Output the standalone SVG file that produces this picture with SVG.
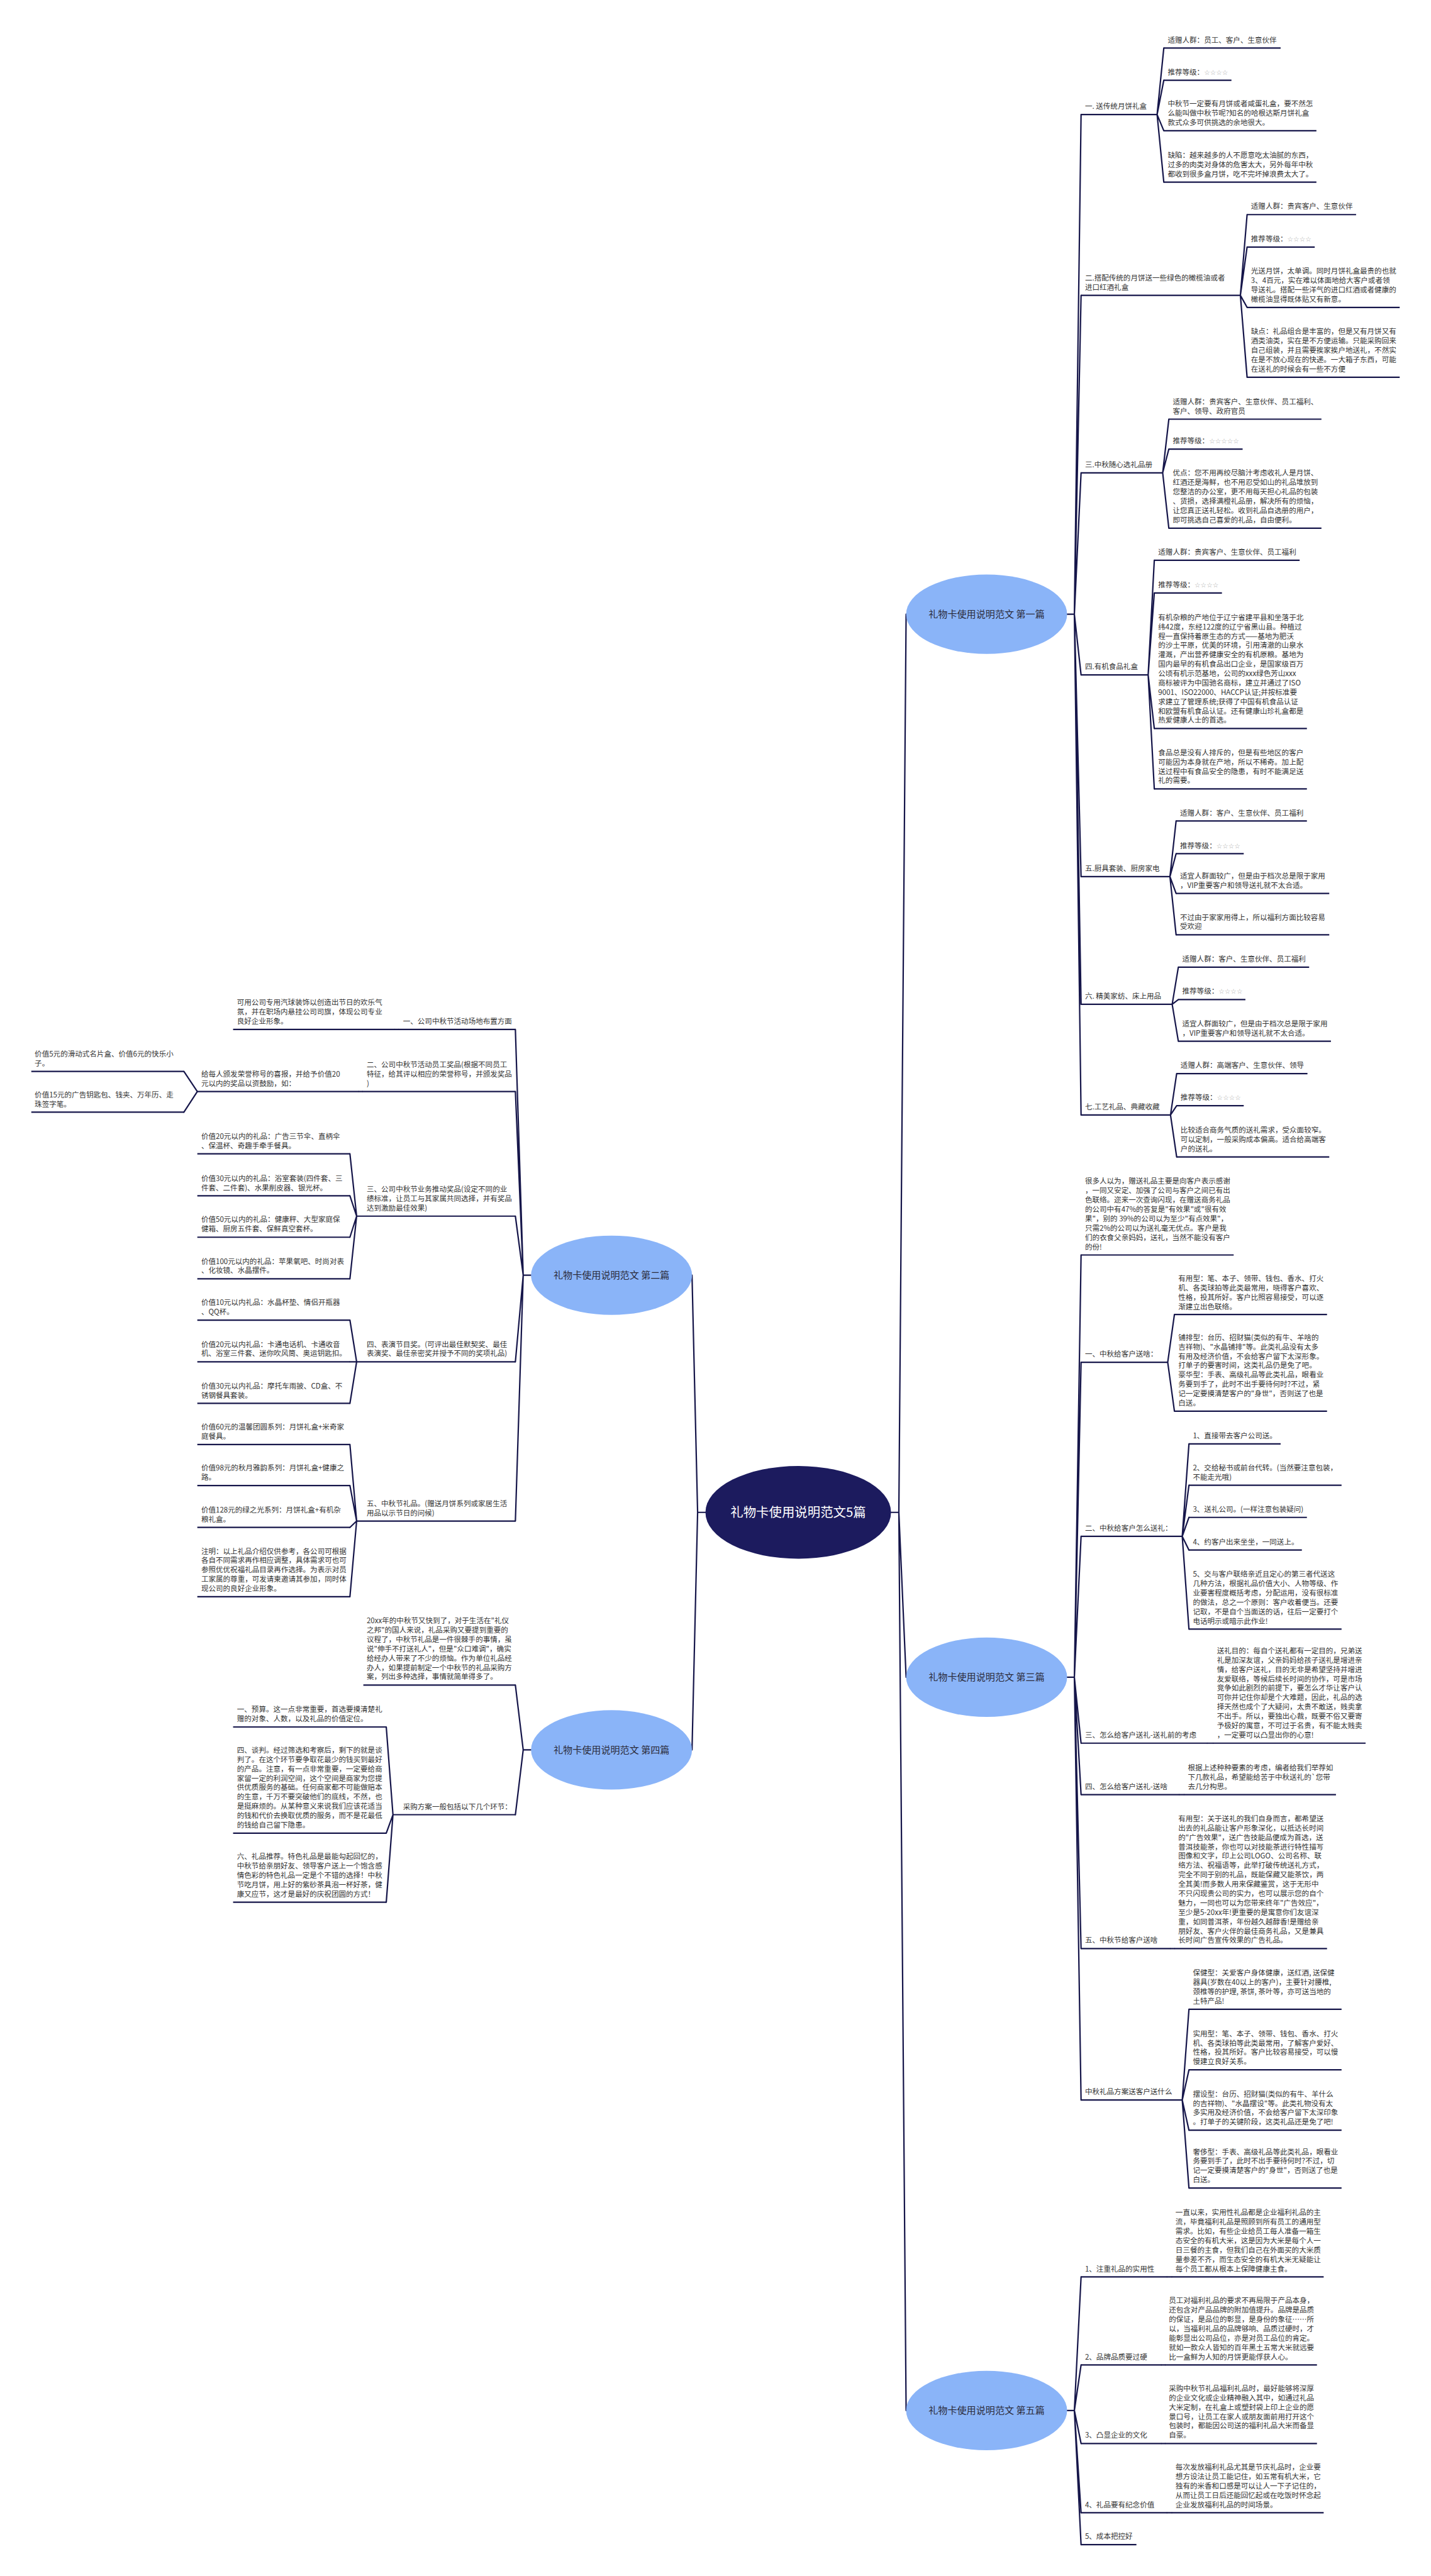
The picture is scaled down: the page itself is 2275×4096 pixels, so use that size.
<svg xmlns="http://www.w3.org/2000/svg" width="2275" height="4096" viewBox="0 0 2275 4096">
<style>
.t{font-family:"Noto Sans CJK SC","Noto Sans",sans-serif;font-size:13px;fill:#333}
.st{fill:#aaa;font-family:"DejaVu Sans",sans-serif;font-size:12px}
.u{stroke:#16164a;stroke-width:2.5;fill:none}
.c{stroke:#16164a;stroke-width:2.5;fill:none;stroke-linejoin:round;stroke-linecap:round}
.b{fill:#8ab4f8}
.bt{font-family:"Noto Sans CJK SC",sans-serif;font-size:17px;fill:#2b2b3a;text-anchor:middle}
.ct{font-family:"Noto Sans CJK SC",sans-serif;font-size:23px;fill:#fff;text-anchor:middle}
</style>
<rect width="2275" height="4096" fill="#fff"/>
<g transform="scale(0.88867)">
<g id="connectors" class="c">
<path d="M1594 2706H1608L1621 1099M1608 2706L1621 3001M1608 2706L1621 4313M1262 2706H1248L1238 2281.75M1248 2706L1238 3131"/>
<path d="M1909 1099H1922L1934 205M1922 1099L1934 528.5M1922 1099L1934 846M1922 1099L1934 1207.5M1922 1099L1934 1568.5M1922 1099L1934 1797M1922 1099L1934 1995"/>
<path d="M2070 205L2082 86M2070 205L2082 143.5M2070 205L2082 234M2070 205L2082 326"/>
<path d="M2219 528.5L2231 384M2219 528.5L2231 442M2219 528.5L2231 550M2219 528.5L2231 675"/>
<path d="M2080 846L2091 750M2080 846L2091 803.5M2080 846L2091 945"/>
<path d="M2054 1207.5L2065 1002.5M2054 1207.5L2065 1061M2054 1207.5L2065 1303.5M2054 1207.5L2065 1411.5"/>
<path d="M2093 1568.5L2104 1469M2093 1568.5L2104 1527.5M2093 1568.5L2104 1598.5M2093 1568.5L2104 1672.5"/>
<path d="M2097 1797L2108 1730.5M2097 1797L2108 1788.5M2097 1797L2108 1863"/>
<path d="M2094 1995L2105 1921M2094 1995L2105 1978.5M2094 1995L2105 2070"/>
<path d="M1909 3001H1922L1934 2245.5M1922 3001L1934 2437.5M1922 3001L1934 2749M1922 3001L1934 3119M1922 3001L1934 3211M1922 3001L1934 3486.5M1922 3001L1934 3757.5"/>
<path d="M2089 2437.5L2101 2352M2089 2437.5L2101 2525"/>
<path d="M2115 2749L2127 2583.5M2115 2749L2127 2657.5M2115 2749L2127 2715M2115 2749L2127 2773.5M2115 2749L2127 2915"/>
<path d="M2160 3119H2170M2110 3211H2118M2094 3486.5H2101"/>
<path d="M2115 3757.5L2127 3595M2115 3757.5L2127 3703.5M2115 3757.5L2127 3811.5M2115 3757.5L2127 3915"/>
<path d="M1909 4313H1922L1934 4074M1922 4313L1934 4231.5M1922 4313L1934 4372M1922 4313L1934 4496M1922 4313L1934 4553"/>
<path d="M2088 4074H2096M2078 4231.5H2084M2078 4372H2084M2088 4496H2096"/>
<path d="M950 2281.75H936L922 1842M936 2281.75L922 1953M936 2281.75L922 2176M936 2281.75L922 2436.6M936 2281.75L922 2721.5"/>
<path d="M713 1842H706M648 1953H642M353 1953L329 1917M353 1953L329 1990"/>
<path d="M638 2176L626 2064.4M638 2176L626 2139.6M638 2176L626 2213.7M638 2176L626 2288"/>
<path d="M638 2436.6L626 2362M638 2436.6L626 2436.6M638 2436.6L626 2511"/>
<path d="M638 2721.5L626 2584.7M638 2721.5L626 2658M638 2721.5L626 2733M638 2721.5L626 2857"/>
<path d="M950 3131H936L922 3015M936 3131L922 3247"/>
<path d="M703 3247L691 3090M703 3247L691 3280M703 3247L691 3403.5"/>
</g>

<g id="center"><ellipse cx="1428" cy="2706" rx="166" ry="83" fill="#1c1b5e"/><text class="ct" x="1428" y="2714">礼物卡使用说明范文5篇</text></g>
<g id="p1"><ellipse class="b" cx="1765" cy="1099" rx="144" ry="71"/><text class="bt" x="1765" y="1105">礼物卡使用说明范文 第一篇</text></g>
<g id="p3"><ellipse class="b" cx="1765" cy="3001" rx="144" ry="71"/><text class="bt" x="1765" y="3007">礼物卡使用说明范文 第三篇</text></g>
<g id="p5"><ellipse class="b" cx="1765" cy="4313" rx="144" ry="71"/><text class="bt" x="1765" y="4319">礼物卡使用说明范文 第五篇</text></g>
<g id="p2"><ellipse class="b" cx="1094" cy="2281.75" rx="144" ry="71"/><text class="bt" x="1094" y="2288">礼物卡使用说明范文 第二篇</text></g>
<g id="p4"><ellipse class="b" cx="1094" cy="3131" rx="144" ry="71"/><text class="bt" x="1094" y="3137">礼物卡使用说明范文 第四篇</text></g>

<!-- 第一篇 -->
<g id="r1"><line class="u" x1="1934" y1="205" x2="2070" y2="205"/><text class="t" x="1941" y="195">一. 送传统月饼礼盒</text></g>
<g id="r1a"><line class="u" x1="2082" y1="86" x2="2291" y2="86"/><text class="t" x="2089" y="76">适赠人群：员工、客户、生意伙伴</text></g>
<g id="r1b"><line class="u" x1="2082" y1="143.5" x2="2203" y2="143.5"/><text class="t" x="2089" y="133.5">推荐等级：<tspan class="st">☆☆☆☆</tspan></text></g>
<g id="r1c"><line class="u" x1="2082" y1="234" x2="2355" y2="234"/><text class="t" x="2089" y="190.5"><tspan x="2089">中秋节一定要有月饼或者咸蛋礼盒，要不然怎</tspan><tspan x="2089" dy="16.75">么能叫做中秋节呢?知名的哈根达斯月饼礼盒</tspan><tspan x="2089" dy="16.75">款式众多可供挑选的余地很大。</tspan></text></g>
<g id="r1d"><line class="u" x1="2082" y1="326" x2="2355" y2="326"/><text class="t" x="2089" y="282.5"><tspan x="2089">缺陷：越来越多的人不愿意吃太油腻的东西，</tspan><tspan x="2089" dy="16.75">过多的肉类对身体的危害太大，另外每年中秋</tspan><tspan x="2089" dy="16.75">都收到很多盒月饼，吃不完坏掉浪费太大了。</tspan></text></g>

<g id="r2"><line class="u" x1="1934" y1="528.5" x2="2219" y2="528.5"/><text class="t" x="1941" y="501.75"><tspan x="1941">二.搭配传统的月饼送一些绿色的橄榄油或者</tspan><tspan x="1941" dy="16.75">进口红酒礼盒</tspan></text></g>
<g id="r2a"><line class="u" x1="2231" y1="384" x2="2426" y2="384"/><text class="t" x="2238" y="374">适赠人群：贵宾客户、生意伙伴</text></g>
<g id="r2b"><line class="u" x1="2231" y1="442" x2="2352" y2="442"/><text class="t" x="2238" y="432">推荐等级：<tspan class="st">☆☆☆☆</tspan></text></g>
<g id="r2c"><line class="u" x1="2231" y1="550" x2="2504" y2="550"/><text class="t" x="2238" y="489.75"><tspan x="2238">光送月饼，太单调。同时月饼礼盒最贵的也就</tspan><tspan x="2238" dy="16.75">3、4百元，实在难以体面地给大客户或者领</tspan><tspan x="2238" dy="16.75">导送礼。搭配一些洋气的进口红酒或者健康的</tspan><tspan x="2238" dy="16.75">橄榄油显得既体贴又有新意。</tspan></text></g>
<g id="r2d"><line class="u" x1="2231" y1="675" x2="2504" y2="675"/><text class="t" x="2238" y="598"><tspan x="2238">缺点：礼品组合是丰富的，但是又有月饼又有</tspan><tspan x="2238" dy="16.75">酒类油类，实在是不方便运输。只能采购回来</tspan><tspan x="2238" dy="16.75">自己组装，并且需要挨家挨户地送礼，不然实</tspan><tspan x="2238" dy="16.75">在是不放心现在的快递。一大箱子东西，可能</tspan><tspan x="2238" dy="16.75">在送礼的时候会有一些不方便</tspan></text></g>

<g id="r3"><line class="u" x1="1934" y1="846" x2="2080" y2="846"/><text class="t" x="1941" y="836">三.中秋随心选礼品册</text></g>
<g id="r3a"><line class="u" x1="2091" y1="750" x2="2364" y2="750"/><text class="t" x="2098" y="723.25"><tspan x="2098">适赠人群：贵宾客户、生意伙伴、员工福利、</tspan><tspan x="2098" dy="16.75">客户、领导、政府官员</tspan></text></g>
<g id="r3b"><line class="u" x1="2091" y1="803.5" x2="2223" y2="803.5"/><text class="t" x="2098" y="793.5">推荐等级：<tspan class="st">☆☆☆☆☆</tspan></text></g>
<g id="r3c"><line class="u" x1="2091" y1="945" x2="2364" y2="945"/><text class="t" x="2098" y="851.25"><tspan x="2098">优点：您不用再绞尽脑汁考虑收礼人是月饼、</tspan><tspan x="2098" dy="16.75">红酒还是海鲜，也不用忍受如山的礼品堆放到</tspan><tspan x="2098" dy="16.75">您整洁的办公室，更不用每天担心礼品的包装</tspan><tspan x="2098" dy="16.75">、货损，选择满橙礼品册，解决所有的烦恼，</tspan><tspan x="2098" dy="16.75">让您真正送礼轻松。收到礼品自选册的用户，</tspan><tspan x="2098" dy="16.75">即可挑选自己喜爱的礼品，自由便利。</tspan></text></g>

<g id="r4"><line class="u" x1="1934" y1="1207.5" x2="2054" y2="1207.5"/><text class="t" x="1941" y="1197.5">四.有机食品礼盒</text></g>
<g id="r4a"><line class="u" x1="2065" y1="1002.5" x2="2325" y2="1002.5"/><text class="t" x="2072" y="992.5">适赠人群：贵宾客户、生意伙伴、员工福利</text></g>
<g id="r4b"><line class="u" x1="2065" y1="1061" x2="2186" y2="1061"/><text class="t" x="2072" y="1051">推荐等级：<tspan class="st">☆☆☆☆</tspan></text></g>
<g id="r4c"><line class="u" x1="2065" y1="1303.5" x2="2338" y2="1303.5"/><text class="t" x="2072" y="1109.25"><tspan x="2072">有机杂粮的产地位于辽宁省建平县和坐落于北</tspan><tspan x="2072" dy="16.75">纬42度，东经122度的辽宁省黑山县。种植过</tspan><tspan x="2072" dy="16.75">程一直保持着原生态的方式——基地为肥沃</tspan><tspan x="2072" dy="16.75">的沙土平原，优美的环境，引用清澈的山泉水</tspan><tspan x="2072" dy="16.75">灌溉，产出营养健康安全的有机原粮。基地为</tspan><tspan x="2072" dy="16.75">国内最早的有机食品出口企业，是国家级百万</tspan><tspan x="2072" dy="16.75">公顷有机示范基地，公司的xxx绿色芳山xxx</tspan><tspan x="2072" dy="16.75">商标被评为中国驰名商标，建立并通过了ISO</tspan><tspan x="2072" dy="16.75">9001、ISO22000、HACCP认证;并按标准要</tspan><tspan x="2072" dy="16.75">求建立了管理系统;获得了中国有机食品认证</tspan><tspan x="2072" dy="16.75">和欧盟有机食品认证。还有健康山珍礼盒都是</tspan><tspan x="2072" dy="16.75">热爱健康人士的首选。</tspan></text></g>
<g id="r4d"><line class="u" x1="2065" y1="1411.5" x2="2338" y2="1411.5"/><text class="t" x="2072" y="1351.25"><tspan x="2072">食品总是没有人排斥的，但是有些地区的客户</tspan><tspan x="2072" dy="16.75">可能因为本身就在产地，所以不稀奇。加上配</tspan><tspan x="2072" dy="16.75">送过程中有食品安全的隐患，有时不能满足送</tspan><tspan x="2072" dy="16.75">礼的需要。</tspan></text></g>

<g id="r5"><line class="u" x1="1934" y1="1568.5" x2="2093" y2="1568.5"/><text class="t" x="1941" y="1558.5">五.厨具套装、厨房家电</text></g>
<g id="r5a"><line class="u" x1="2104" y1="1469" x2="2338" y2="1469"/><text class="t" x="2111" y="1459">适赠人群：客户、生意伙伴、员工福利</text></g>
<g id="r5b"><line class="u" x1="2104" y1="1527.5" x2="2225" y2="1527.5"/><text class="t" x="2111" y="1517.5">推荐等级：<tspan class="st">☆☆☆☆</tspan></text></g>
<g id="r5c"><line class="u" x1="2104" y1="1598.5" x2="2378" y2="1598.5"/><text class="t" x="2111" y="1571.75"><tspan x="2111">适宜人群面较广，但是由于档次总是限于家用</tspan><tspan x="2111" dy="16.75">，VIP重要客户和领导送礼就不太合适。</tspan></text></g>
<g id="r5d"><line class="u" x1="2104" y1="1672.5" x2="2378" y2="1672.5"/><text class="t" x="2111" y="1645.75"><tspan x="2111">不过由于家家用得上，所以福利方面比较容易</tspan><tspan x="2111" dy="16.75">受欢迎</tspan></text></g>

<g id="r6"><line class="u" x1="1934" y1="1797" x2="2097" y2="1797"/><text class="t" x="1941" y="1787">六. 精美家纺、床上用品</text></g>
<g id="r6a"><line class="u" x1="2108" y1="1730.5" x2="2342" y2="1730.5"/><text class="t" x="2115" y="1720.5">适赠人群：客户、生意伙伴、员工福利</text></g>
<g id="r6b"><line class="u" x1="2108" y1="1788.5" x2="2228" y2="1788.5"/><text class="t" x="2115" y="1778.5">推荐等级：<tspan class="st">☆☆☆☆</tspan></text></g>
<g id="r6c"><line class="u" x1="2108" y1="1863" x2="2381" y2="1863"/><text class="t" x="2115" y="1836.25"><tspan x="2115">适宜人群面较广，但是由于档次总是限于家用</tspan><tspan x="2115" dy="16.75">，VIP重要客户和领导送礼就不太合适。</tspan></text></g>

<g id="r7"><line class="u" x1="1934" y1="1995" x2="2094" y2="1995"/><text class="t" x="1941" y="1985">七.工艺礼品、典藏收藏</text></g>
<g id="r7a"><line class="u" x1="2105" y1="1921" x2="2339" y2="1921"/><text class="t" x="2112" y="1911">适赠人群：高端客户、生意伙伴、领导</text></g>
<g id="r7b"><line class="u" x1="2105" y1="1978.5" x2="2225" y2="1978.5"/><text class="t" x="2112" y="1968.5">推荐等级：<tspan class="st">☆☆☆☆</tspan></text></g>
<g id="r7c"><line class="u" x1="2105" y1="2070" x2="2378" y2="2070"/><text class="t" x="2112" y="2026.5"><tspan x="2112">比较适合商务气质的送礼需求，受众面较窄。</tspan><tspan x="2112" dy="16.75">可以定制，一般采购成本偏高。适合给高端客</tspan><tspan x="2112" dy="16.75">户的送礼。</tspan></text></g>

<!-- 第三篇 -->
<g id="t1"><line class="u" x1="1934" y1="2245.5" x2="2207" y2="2245.5"/><text class="t" x="1941" y="2118.25"><tspan x="1941">很多人以为，赠送礼品主要是向客户表示感谢</tspan><tspan x="1941" dy="16.75">，一同又安定、加强了公司与客户之间已有出</tspan><tspan x="1941" dy="16.75">色联络。迩来一次查询闪现，在赠送商务礼品</tspan><tspan x="1941" dy="16.75">的公司中有47%的答复是"有效果"或"很有效</tspan><tspan x="1941" dy="16.75">果"，别的 39%的公司以为至少"有点效果"，</tspan><tspan x="1941" dy="16.75">只需2%的公司以为送礼毫无优点。客户是我</tspan><tspan x="1941" dy="16.75">们的衣食父亲妈妈，送礼，当然不能没有客户</tspan><tspan x="1941" dy="16.75">的份!</tspan></text></g>

<g id="t2"><line class="u" x1="1934" y1="2437.5" x2="2089" y2="2437.5"/><text class="t" x="1941" y="2427.5">一、中秋给客户送啥：</text></g>
<g id="t2a"><line class="u" x1="2101" y1="2352" x2="2374" y2="2352"/><text class="t" x="2108" y="2292.25"><tspan x="2108">有用型：笔、本子、领带、钱包、香水、打火</tspan><tspan x="2108" dy="16.75">机、各类球拍等此类最常用，晓得客户喜欢、</tspan><tspan x="2108" dy="16.75">性格，投其所好。客户比照容易接受，可以逐</tspan><tspan x="2108" dy="16.75">渐建立出色联络。</tspan></text></g>
<g id="t2b"><line class="u" x1="2101" y1="2525" x2="2374" y2="2525"/><text class="t" x="2108" y="2397.75"><tspan x="2108">铺排型：台历、招财猫(类似的有牛、羊啥的</tspan><tspan x="2108" dy="16.75">吉祥物)、"水晶铺排"等。此类礼品没有太多</tspan><tspan x="2108" dy="16.75">有用及经济价值，不会给客户留下太深形象。</tspan><tspan x="2108" dy="16.75">打单子的要害时间，这类礼品仍是免了吧。</tspan><tspan x="2108" dy="16.75">豪华型：手表、高级礼品等此类礼品，眼看业</tspan><tspan x="2108" dy="16.75">务要到手了，此时不出手要待何时?不过，紧</tspan><tspan x="2108" dy="16.75">记一定要摸清楚客户的"身世"，否则送了也是</tspan><tspan x="2108" dy="16.75">白送。</tspan></text></g>

<g id="t3"><line class="u" x1="1934" y1="2749" x2="2115" y2="2749"/><text class="t" x="1941" y="2739">二、中秋给客户怎么送礼：</text></g>
<g id="t3a"><line class="u" x1="2127" y1="2583.5" x2="2291" y2="2583.5"/><text class="t" x="2134" y="2573.5">1、直接带去客户公司送。</text></g>
<g id="t3b"><line class="u" x1="2127" y1="2657.5" x2="2400" y2="2657.5"/><text class="t" x="2134" y="2631"><tspan x="2134">2、交给秘书或前台代转。(当然要注意包装，</tspan><tspan x="2134" dy="16.75">不能走光哦)</tspan></text></g>
<g id="t3c"><line class="u" x1="2127" y1="2715" x2="2338" y2="2715"/><text class="t" x="2134" y="2705">3、送礼公司。(一样注意包装疑问)</text></g>
<g id="t3d"><line class="u" x1="2127" y1="2773.5" x2="2329" y2="2773.5"/><text class="t" x="2134" y="2763.5">4、约客户出来坐坐，一同送上。</text></g>
<g id="t3e"><line class="u" x1="2127" y1="2915" x2="2400" y2="2915"/><text class="t" x="2134" y="2821.25"><tspan x="2134">5、交与客户联络亲近且定心的第三者代送这</tspan><tspan x="2134" dy="16.75">几种方法，根据礼品价值大小、人物等级、作</tspan><tspan x="2134" dy="16.75">业要害程度概括考虑，分配运用，没有很标准</tspan><tspan x="2134" dy="16.75">的做法，总之一个原则：客户收着便当。还要</tspan><tspan x="2134" dy="16.75">记取，不是自个当面送的话，往后一定要打个</tspan><tspan x="2134" dy="16.75">电话明示或暗示此作业!</tspan></text></g>

<g id="t4"><line class="u" x1="1934" y1="3119" x2="2160" y2="3119"/><text class="t" x="1941" y="3109">三、怎么给客户送礼-送礼前的考虑</text></g>
<g id="t4a"><line class="u" x1="2170" y1="3119" x2="2443" y2="3119"/><text class="t" x="2177" y="2958.25"><tspan x="2177">送礼目的：每自个送礼都有一定目的，兄弟送</tspan><tspan x="2177" dy="16.75">礼是加深友谊，父亲妈妈给孩子送礼是增进亲</tspan><tspan x="2177" dy="16.75">情，给客户送礼，目的无非是希望坚持并增进</tspan><tspan x="2177" dy="16.75">友爱联络，等候后续长时间的协作，可是市场</tspan><tspan x="2177" dy="16.75">竞争如此剧烈的前提下，要怎么才华让客户认</tspan><tspan x="2177" dy="16.75">可你并记住你却是个大难题，因此，礼品的选</tspan><tspan x="2177" dy="16.75">择天然也成个了大疑问，太贵不敢送，贱卖拿</tspan><tspan x="2177" dy="16.75">不出手。所以，要独出心裁，既要不俗又要寄</tspan><tspan x="2177" dy="16.75">予极好的寓意，不可过于名贵，有不能太贱卖</tspan><tspan x="2177" dy="16.75">，一定要可以凸显出你的心意!</tspan></text></g>

<g id="t5"><line class="u" x1="1934" y1="3211" x2="2110" y2="3211"/><text class="t" x="1941" y="3201">四、怎么给客户送礼-送啥</text></g>
<g id="t5a"><line class="u" x1="2118" y1="3211" x2="2390" y2="3211"/><text class="t" x="2125" y="3167.5"><tspan x="2125">根据上述种种要素的考虑，编者给我们举荐如</tspan><tspan x="2125" dy="16.75">下几款礼品，希望能给苦于中秋送礼的`您带</tspan><tspan x="2125" dy="16.75">去几分构思。</tspan></text></g>

<g id="t6"><line class="u" x1="1934" y1="3486.5" x2="2094" y2="3486.5"/><text class="t" x="1941" y="3476.5">五、中秋节给客户送啥</text></g>
<g id="t6a"><line class="u" x1="2101" y1="3486.5" x2="2374" y2="3486.5"/><text class="t" x="2108" y="3258.75"><tspan x="2108">有用型：关于送礼的我们自身而言，都希望送</tspan><tspan x="2108" dy="16.75">出去的礼品能让客户形象深化，以抵达长时间</tspan><tspan x="2108" dy="16.75">的"广告效果"，送广告技能品便成为首选，送</tspan><tspan x="2108" dy="16.75">普洱技能茶，你也可以对技能茶进行特性描写</tspan><tspan x="2108" dy="16.75">图像和文字，印上公司LOGO、公司名称、联</tspan><tspan x="2108" dy="16.75">络方法、祝福语等，此举打破传统送礼方式，</tspan><tspan x="2108" dy="16.75">完全不同于别的礼品，既能保藏又能茶饮，两</tspan><tspan x="2108" dy="16.75">全其美!而多数人用来保藏鉴赏，这于无形中</tspan><tspan x="2108" dy="16.75">不只闪现贵公司的实力，也可以展示您的自个</tspan><tspan x="2108" dy="16.75">魅力，一同也可以为您带来终年"广告效应"，</tspan><tspan x="2108" dy="16.75">至少是5-20xx年!更重要的是寓意你们友谊深</tspan><tspan x="2108" dy="16.75">重，如同普洱茶，年份越久越醇香!是赠给亲</tspan><tspan x="2108" dy="16.75">朋好友、客户火伴的最佳商务礼品，又是兼具</tspan><tspan x="2108" dy="16.75">长时间广告宣传效果的广告礼品。</tspan></text></g>

<g id="t7"><line class="u" x1="1934" y1="3757.5" x2="2115" y2="3757.5"/><text class="t" x="1941" y="3747.5">中秋礼品方案送客户送什么</text></g>
<g id="t7a"><line class="u" x1="2127" y1="3595" x2="2400" y2="3595"/><text class="t" x="2134" y="3534.75"><tspan x="2134">保健型：关爱客户身体健康，送红酒, 送保健</tspan><tspan x="2134" dy="16.75">器具(岁数在40以上的客户)，主要针对腰椎,</tspan><tspan x="2134" dy="16.75">颈椎等的护理, 茶饼, 茶叶等，亦可送当地的</tspan><tspan x="2134" dy="16.75">土特产品!</tspan></text></g>
<g id="t7b"><line class="u" x1="2127" y1="3703.5" x2="2400" y2="3703.5"/><text class="t" x="2134" y="3643.25"><tspan x="2134">实用型：笔、本子、领带、钱包、香水、打火</tspan><tspan x="2134" dy="16.75">机、各类球拍等此类最常用，了解客户爱好、</tspan><tspan x="2134" dy="16.75">性格，投其所好。客户比较容易接受，可以慢</tspan><tspan x="2134" dy="16.75">慢建立良好关系。</tspan></text></g>
<g id="t7c"><line class="u" x1="2127" y1="3811.5" x2="2400" y2="3811.5"/><text class="t" x="2134" y="3751.25"><tspan x="2134">摆设型：台历、招财猫(类似的有牛、羊什么</tspan><tspan x="2134" dy="16.75">的吉祥物)、"水晶摆设"等。此类礼物没有太</tspan><tspan x="2134" dy="16.75">多实用及经济价值，不会给客户留下太深印象</tspan><tspan x="2134" dy="16.75">。打单子的关键阶段，这类礼品还是免了吧!</tspan></text></g>
<g id="t7d"><line class="u" x1="2127" y1="3915" x2="2400" y2="3915"/><text class="t" x="2134" y="3854.75"><tspan x="2134">奢侈型：手表、高级礼品等此类礼品，眼看业</tspan><tspan x="2134" dy="16.75">务要到手了，此时不出手要待何时?不过，切</tspan><tspan x="2134" dy="16.75">记一定要摸清楚客户的"身世"，否则送了也是</tspan><tspan x="2134" dy="16.75">白送。</tspan></text></g>

<!-- 第五篇 -->
<g id="f1"><line class="u" x1="1934" y1="4074" x2="2088" y2="4074"/><text class="t" x="1941" y="4064">1、注重礼品的实用性</text></g>
<g id="f1a"><line class="u" x1="2096" y1="4074" x2="2368" y2="4074"/><text class="t" x="2103" y="3963.5"><tspan x="2103">一直以来，实用性礼品都是企业福利礼品的主</tspan><tspan x="2103" dy="16.75">流，毕竟福利礼品是照顾到所有员工的通用型</tspan><tspan x="2103" dy="16.75">需求。比如，有些企业给员工每人准备一箱生</tspan><tspan x="2103" dy="16.75">态安全的有机大米，这是因为大米是每个人一</tspan><tspan x="2103" dy="16.75">日三餐的主食，但我们自己在外面买的大米质</tspan><tspan x="2103" dy="16.75">量参差不齐，而生态安全的有机大米无疑能让</tspan><tspan x="2103" dy="16.75">每个员工都从根本上保障健康主食。</tspan></text></g>
<g id="f2"><line class="u" x1="1934" y1="4231.5" x2="2078" y2="4231.5"/><text class="t" x="1941" y="4221.5">2、品牌品质要过硬</text></g>
<g id="f2a"><line class="u" x1="2084" y1="4231.5" x2="2356" y2="4231.5"/><text class="t" x="2091" y="4121"><tspan x="2091">员工对福利礼品的要求不再局限于产品本身，</tspan><tspan x="2091" dy="16.75">还包含对产品品牌的附加值提升。品牌是品质</tspan><tspan x="2091" dy="16.75">的保证，是品位的彰显，是身份的象征……所</tspan><tspan x="2091" dy="16.75">以，当福利礼品的品牌够响、品质过硬时，才</tspan><tspan x="2091" dy="16.75">能彰显出公司品位，亦是对员工品位的肯定。</tspan><tspan x="2091" dy="16.75">就如一款众人皆知的百年黑土五常大米就远要</tspan><tspan x="2091" dy="16.75">比一盒鲜为人知的月饼更能俘获人心。</tspan></text></g>
<g id="f3"><line class="u" x1="1934" y1="4372" x2="2078" y2="4372"/><text class="t" x="1941" y="4362">3、凸显企业的文化</text></g>
<g id="f3a"><line class="u" x1="2084" y1="4372" x2="2356" y2="4372"/><text class="t" x="2091" y="4278.25"><tspan x="2091">采购中秋节礼品福利礼品时，最好能够将深厚</tspan><tspan x="2091" dy="16.75">的企业文化或企业精神融入其中，如通过礼品</tspan><tspan x="2091" dy="16.75">大米定制，在礼盒上或塑封袋上印上企业的愿</tspan><tspan x="2091" dy="16.75">景口号，让员工在家人或朋友面前用打开这个</tspan><tspan x="2091" dy="16.75">包装时，都能因公司送的福利礼品大米而备显</tspan><tspan x="2091" dy="16.75">自豪。</tspan></text></g>
<g id="f4"><line class="u" x1="1934" y1="4496" x2="2088" y2="4496"/><text class="t" x="1941" y="4486">4、礼品要有纪念价值</text></g>
<g id="f4a"><line class="u" x1="2096" y1="4496" x2="2368" y2="4496"/><text class="t" x="2103" y="4419"><tspan x="2103">每次发放福利礼品尤其是节庆礼品时，企业要</tspan><tspan x="2103" dy="16.75">想方设法让员工能记住，如五常有机大米，它</tspan><tspan x="2103" dy="16.75">独有的米香和口感是可以让人一下子记住的，</tspan><tspan x="2103" dy="16.75">从而让员工日后还能回忆起或在吃饭时怀念起</tspan><tspan x="2103" dy="16.75">企业发放福利礼品的时间场景。</tspan></text></g>
<g id="f5"><line class="u" x1="1934" y1="4553" x2="2033" y2="4553"/><text class="t" x="1941" y="4543">5、成本把控好</text></g>

<!-- 第二篇 -->
<g id="s1"><line class="u" x1="713" y1="1842" x2="922" y2="1842"/><text class="t" x="721" y="1832">一、公司中秋节活动场地布置方面</text></g>
<g id="s1a"><line class="u" x1="417" y1="1842" x2="706" y2="1842"/><text class="t" x="424" y="1798.5"><tspan x="424">可用公司专用汽球装饰以创造出节日的欢乐气</tspan><tspan x="424" dy="16.75">氛，并在职场内悬挂公司司旗，体现公司专业</tspan><tspan x="424" dy="16.75">良好企业形象。</tspan></text></g>
<g id="s2"><line class="u" x1="648" y1="1953" x2="922" y2="1953"/><text class="t" x="656" y="1909.5"><tspan x="656">二、公司中秋节活动员工奖品(根据不同员工</tspan><tspan x="656" dy="16.75">特征，给其评以相应的荣誉称号，并颁发奖品</tspan><tspan x="656" dy="16.75">)</tspan></text></g>
<g id="s2a"><line class="u" x1="353" y1="1953" x2="642" y2="1953"/><text class="t" x="360" y="1926.25"><tspan x="360">给每人颁发荣誉称号的喜报，并给予价值20</tspan><tspan x="360" dy="16.75">元以内的奖品以资鼓励，如：</tspan></text></g>
<g id="s2a1"><line class="u" x1="56" y1="1917" x2="329" y2="1917"/><text class="t" x="62" y="1890.25"><tspan x="62">价值5元的滑动式名片盒、价值6元的快乐小</tspan><tspan x="62" dy="16.75">子。</tspan></text></g>
<g id="s2a2"><line class="u" x1="56" y1="1990" x2="329" y2="1990"/><text class="t" x="62" y="1963.25"><tspan x="62">价值15元的广告钥匙包、钱夹、万年历、走</tspan><tspan x="62" dy="16.75">珠签字笔。</tspan></text></g>
<g id="s3"><line class="u" x1="638" y1="2176" x2="922" y2="2176"/><text class="t" x="656" y="2132.5"><tspan x="656">三、公司中秋节业务推动奖品(设定不同的业</tspan><tspan x="656" dy="16.75">绩标准，让员工与其家属共同选择，并有奖品</tspan><tspan x="656" dy="16.75">达到激励最佳效果)</tspan></text></g>
<g id="s3a"><line class="u" x1="353" y1="2064.4" x2="626" y2="2064.4"/><text class="t" x="360" y="2037.65"><tspan x="360">价值20元以内的礼品：广告三节伞、直柄伞</tspan><tspan x="360" dy="16.75">、保温杯、奇趣手牵手餐具。</tspan></text></g>
<g id="s3b"><line class="u" x1="353" y1="2139.6" x2="626" y2="2139.6"/><text class="t" x="360" y="2112.85"><tspan x="360">价值30元以内的礼品：浴室套装(四件套、三</tspan><tspan x="360" dy="16.75">件套、二件套)、水果削皮器、银光杯。</tspan></text></g>
<g id="s3c"><line class="u" x1="353" y1="2213.7" x2="626" y2="2213.7"/><text class="t" x="360" y="2186.95"><tspan x="360">价值50元以内的礼品：健康秤、大型家庭保</tspan><tspan x="360" dy="16.75">健箱、厨房五件套、保鲜真空套杯。</tspan></text></g>
<g id="s3d"><line class="u" x1="353" y1="2288" x2="626" y2="2288"/><text class="t" x="360" y="2261.25"><tspan x="360">价值100元以内的礼品：苹果氧吧、时尚对表</tspan><tspan x="360" dy="16.75">、化妆镜、水晶摆件。</tspan></text></g>
<g id="s4"><line class="u" x1="638" y1="2436.6" x2="922" y2="2436.6"/><text class="t" x="656" y="2409.85"><tspan x="656">四、表演节目奖。(可评出最佳默契奖、最佳</tspan><tspan x="656" dy="16.75">表演奖、最佳亲密奖并授予不同的奖项礼品)</tspan></text></g>
<g id="s4a"><line class="u" x1="353" y1="2362" x2="626" y2="2362"/><text class="t" x="360" y="2335.25"><tspan x="360">价值10元以内礼品：水晶杯垫、情侣开瓶器</tspan><tspan x="360" dy="16.75">、QQ杯。</tspan></text></g>
<g id="s4b"><line class="u" x1="353" y1="2436.6" x2="626" y2="2436.6"/><text class="t" x="360" y="2409.85"><tspan x="360">价值20元以内礼品：卡通电话机、卡通收音</tspan><tspan x="360" dy="16.75">机、浴室三件套、迷你吹风筒、奥运钥匙扣。</tspan></text></g>
<g id="s4c"><line class="u" x1="353" y1="2511" x2="626" y2="2511"/><text class="t" x="360" y="2484.25"><tspan x="360">价值30元以内礼品：摩托车雨披、CD盒、不</tspan><tspan x="360" dy="16.75">锈钢餐具套装。</tspan></text></g>
<g id="s5"><line class="u" x1="638" y1="2721.5" x2="922" y2="2721.5"/><text class="t" x="656" y="2694.75"><tspan x="656">五、中秋节礼品。(赠送月饼系列或家居生活</tspan><tspan x="656" dy="16.75">用品以示节日的问候)</tspan></text></g>
<g id="s5a"><line class="u" x1="353" y1="2584.7" x2="626" y2="2584.7"/><text class="t" x="360" y="2557.95"><tspan x="360">价值60元的温馨团圆系列：月饼礼盒+米奇家</tspan><tspan x="360" dy="16.75">庭餐具。</tspan></text></g>
<g id="s5b"><line class="u" x1="353" y1="2658" x2="626" y2="2658"/><text class="t" x="360" y="2631.25"><tspan x="360">价值98元的秋月雅韵系列：月饼礼盒+健康之</tspan><tspan x="360" dy="16.75">路。</tspan></text></g>
<g id="s5c"><line class="u" x1="353" y1="2733" x2="626" y2="2733"/><text class="t" x="360" y="2706.25"><tspan x="360">价值128元的绿之光系列：月饼礼盒+有机杂</tspan><tspan x="360" dy="16.75">粮礼盒。</tspan></text></g>
<g id="s5d"><line class="u" x1="353" y1="2857" x2="626" y2="2857"/><text class="t" x="360" y="2780"><tspan x="360">注明：以上礼品介绍仅供参考，各公司可根据</tspan><tspan x="360" dy="16.75">各自不同需求再作相应调整，具体需求可也可</tspan><tspan x="360" dy="16.75">参照优优祝福礼品目录再作选择。为表示对员</tspan><tspan x="360" dy="16.75">工家属的尊重，可发请柬邀请其参加，同时体</tspan><tspan x="360" dy="16.75">现公司的良好企业形象。</tspan></text></g>

<!-- 第四篇 -->
<g id="v1"><line class="u" x1="650" y1="3015" x2="922" y2="3015"/><text class="t" x="656" y="2904.5"><tspan x="656">20xx年的中秋节又快到了，对于生活在"礼仪</tspan><tspan x="656" dy="16.75">之邦"的国人来说，礼品采购又要提到重要的</tspan><tspan x="656" dy="16.75">议程了，中秋节礼品是一件很棘手的事情，虽</tspan><tspan x="656" dy="16.75">说"伸手不打送礼人"，但是"众口难调"，确实</tspan><tspan x="656" dy="16.75">给经办人带来了不少的烦恼。作为单位礼品经</tspan><tspan x="656" dy="16.75">办人，如果提前制定一个中秋节的礼品采购方</tspan><tspan x="656" dy="16.75">案，列出多种选择，事情就简单得多了。</tspan></text></g>
<g id="v2"><line class="u" x1="703" y1="3247" x2="922" y2="3247"/><text class="t" x="721" y="3237">采购方案一般包括以下几个环节：</text></g>
<g id="v2a"><line class="u" x1="417" y1="3090" x2="691" y2="3090"/><text class="t" x="424" y="3063.25"><tspan x="424">一、预算。这一点非常重要，首选要摸清楚礼</tspan><tspan x="424" dy="16.75">赠的对象、人数，以及礼品的价值定位。</tspan></text></g>
<g id="v2b"><line class="u" x1="417" y1="3280" x2="691" y2="3280"/><text class="t" x="424" y="3136"><tspan x="424">四、谈判。经过筛选和考察后，剩下的就是谈</tspan><tspan x="424" dy="16.75">判了。在这个环节要争取花最少的钱买到最好</tspan><tspan x="424" dy="16.75">的产品。注意，有一点非常重要，一定要给商</tspan><tspan x="424" dy="16.75">家留一定的利润空间，这个空间是商家为您提</tspan><tspan x="424" dy="16.75">供优质服务的基础。任何商家都不可能做赔本</tspan><tspan x="424" dy="16.75">的生意，千万不要突破他们的底线，不然，也</tspan><tspan x="424" dy="16.75">是挺麻烦的。从某种意义来说我们应该花适当</tspan><tspan x="424" dy="16.75">的钱和代价去换取优质的服务，而不是花最低</tspan><tspan x="424" dy="16.75">的钱给自己留下隐患。</tspan></text></g>
<g id="v2c"><line class="u" x1="417" y1="3403.5" x2="691" y2="3403.5"/><text class="t" x="424" y="3326.5"><tspan x="424">六、礼品推荐。特色礼品是最能勾起回忆的，</tspan><tspan x="424" dy="16.75">中秋节给亲朋好友、领导客户送上一个饱含感</tspan><tspan x="424" dy="16.75">情色彩的特色礼品一定是个不错的选择！中秋</tspan><tspan x="424" dy="16.75">节吃月饼，用上好的紫砂茶具泡一杯好茶，健</tspan><tspan x="424" dy="16.75">康又应节，这才是最好的庆祝团圆的方式！</tspan></text></g>
</g>
</svg>
